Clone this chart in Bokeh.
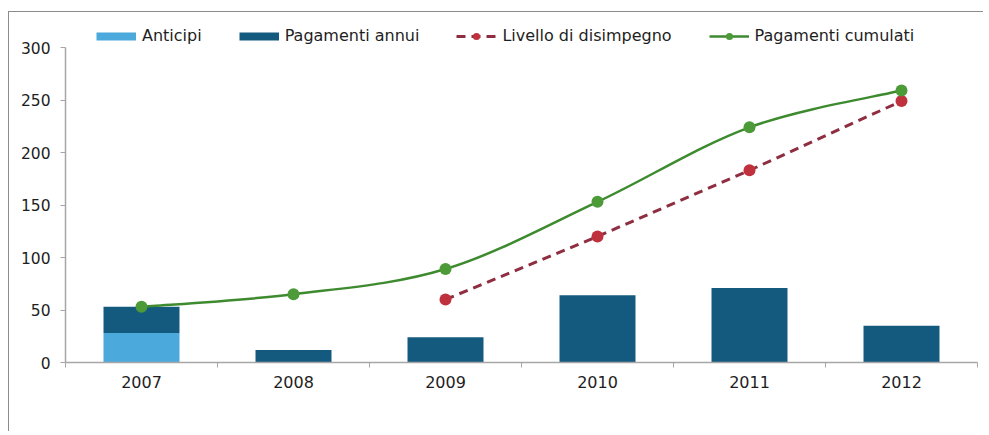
import numpy as np
from bokeh.plotting import figure
from bokeh.models import Range1d, FixedTicker, Legend, LegendItem
from bokeh.embed import file_html
from bokeh.resources import INLINE

# ---- data ----
years = ["2007", "2008", "2009", "2010", "2011", "2012"]
anticipi = [28, 0, 0, 0, 0, 0]
pagamenti_annui = [25, 12, 24, 64, 71, 35]
disimpegno_years = ["2009", "2010", "2011", "2012"]
disimpegno = [60, 120, 183, 249]
cumulati = [53, 65, 89, 153, 224, 259]
y_ticks = [0, 50, 100, 150, 200, 250, 300]
y_axis_max = 300

# ---- styles ----
FONT = "DejaVu Sans"
C_ANT = "#4BA9DC"
C_PAG = "#145A7E"
C_DIS_LINE = "#8E2E40"
C_DIS_PT = "#C0313E"
C_CUM_LINE = "#3E8A2F"
C_CUM_PT = "#4C9A38"
AXIS = "#A6A6A6"
TXT = "#1E1E1E"

xpos = {y: i + 0.5 for i, y in enumerate(years)}
xs = [xpos[y] for y in years]
xd = [xpos[y] for y in disimpegno_years]

# frame extends above 300 to hold the legend; axis line bounded to 0..300
p = figure(width=975, height=420, output_backend="svg", toolbar_location=None,
           x_range=Range1d(0, len(years)), y_range=Range1d(0, y_axis_max * 345 / 315),
           min_border_left=56, min_border_right=7, min_border_top=5, min_border_bottom=70)
p.styles = {"border-left": "1px solid #8C8C8C", "border-top": "1px solid #8C8C8C",
            "margin-top": "11px", "margin-left": "8px"}
p.outline_line_color = None
p.xgrid.visible = False
p.ygrid.visible = False
p.background_fill_color = "white"
p.border_fill_color = "white"

# stacked bars
bottom_pag = anticipi
top_pag = [a + b for a, b in zip(anticipi, pagamenti_annui)]
p.vbar(x=xs, width=0.5, bottom=0, top=anticipi, fill_color=C_ANT, line_color=None)
p.vbar(x=xs, width=0.5, bottom=bottom_pag, top=top_pag, fill_color=C_PAG, line_color=None)

# disimpegno dashed line
p.line(xd, disimpegno, line_color=C_DIS_LINE, line_width=3, line_dash="9 6")
p.scatter(xd, disimpegno, size=12, fill_color=C_DIS_PT, line_color=None)

# cumulative smoothed line (bezier segments through the data points)
P = list(zip(xs, cumulati))
n = len(P)
x0, y0, x1, y1, cx0, cy0, cx1, cy1 = [], [], [], [], [], [], [], []
for i in range(n - 1):
    pm = P[i - 1] if i > 0 else P[i]
    pa = P[i]
    pb = P[i + 1]
    pn = P[i + 2] if i + 2 < n else P[i + 1]
    x0.append(pa[0]); y0.append(pa[1])
    x1.append(pb[0]); y1.append(pb[1])
    cx0.append(pa[0] + (pb[0] - pm[0]) / 6); cy0.append(pa[1] + (pb[1] - pm[1]) / 6)
    cx1.append(pb[0] - (pn[0] - pa[0]) / 6); cy1.append(pb[1] - (pn[1] - pa[1]) / 6)
p.bezier(x0=x0, y0=y0, x1=x1, y1=y1, cx0=cx0, cy0=cy0, cx1=cx1, cy1=cy1,
         line_color=C_CUM_LINE, line_width=2.5)
p.scatter(xs, cumulati, size=12, fill_color=C_CUM_PT, line_color=None)

# legend-only renderers (hidden; used only for legend glyph styling)
l_ant = p.line(xs, anticipi, line_color=C_ANT, line_width=8, line_cap="butt", visible=False)
l_pag = p.line(xs, pagamenti_annui, line_color=C_PAG, line_width=8, line_cap="butt", visible=False)
l_dis = p.line(xd, disimpegno, line_color=C_DIS_LINE, line_width=3, line_dash="9 6", visible=False)
s_dis = p.scatter(xd, disimpegno, fill_color=C_DIS_PT, line_color=None, visible=False)
l_cum = p.line(xs, cumulati, line_color=C_CUM_LINE, line_width=2.5, visible=False)
s_cum = p.scatter(xs, cumulati, fill_color=C_CUM_PT, line_color=None, visible=False)

legend = Legend(items=[
    LegendItem(label="Anticipi", renderers=[l_ant]),
    LegendItem(label="Pagamenti annui", renderers=[l_pag]),
    LegendItem(label="Livello di disimpegno", renderers=[l_dis, s_dis]),
    LegendItem(label="Pagamenti cumulati", renderers=[l_cum, s_cum]),
], orientation="horizontal", location=(31, 317), glyph_width=40, glyph_height=18,
    label_standoff=6, spacing=37, padding=0, margin=0, border_line_color=None,
    background_fill_alpha=0, label_text_font=FONT, label_text_font_size="16px",
    label_text_color=TXT, label_height=18, click_policy="none")
p.add_layout(legend, "center")

# axes
ax = p.xaxis[0]
ax.ticker = FixedTicker(ticks=xs, minor_ticks=list(range(len(years) + 1)))
ax.major_label_overrides = {x: y for x, y in zip(xs, years)}
ax.major_tick_line_color = None
ax.minor_tick_line_color = AXIS
ax.minor_tick_out = 5
ax.minor_tick_in = 0
ax.axis_line_color = AXIS
ax.axis_line_width = 1.5
ax.major_label_text_font = FONT
ax.major_label_text_font_size = "16px"
ax.major_label_text_color = TXT
ax.major_label_standoff = 7

ay = p.yaxis[0]
ay.ticker = FixedTicker(ticks=y_ticks)
ay.bounds = (0, y_axis_max)
ay.major_tick_line_color = AXIS
ay.major_tick_out = 5
ay.major_tick_in = 0
ay.minor_tick_line_color = None
ay.axis_line_color = AXIS
ay.axis_line_width = 1.5
ay.major_label_text_font = FONT
ay.major_label_text_font_size = "15.5px"
ay.major_label_text_color = TXT
ay.major_label_standoff = 10

open("out.html", "w").write(file_html(p, INLINE))
